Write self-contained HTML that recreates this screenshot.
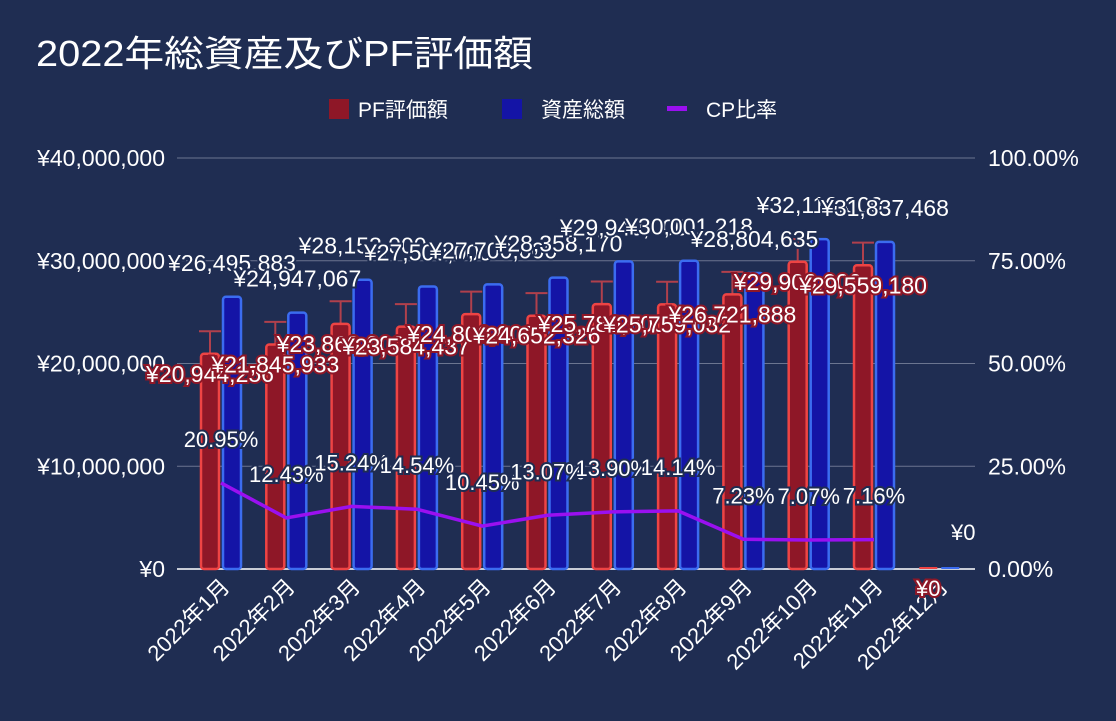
<!DOCTYPE html>
<html><head><meta charset="utf-8"><style>
body{margin:0;background:#1f2d52;}
svg text{font-family:"Liberation Sans","Noto Sans CJK JP",sans-serif;}
</style></head><body>
<svg id="s" width="1116" height="716" xmlns="http://www.w3.org/2000/svg">
<rect width="1116" height="716" fill="#1f2d52"/>
<text x="36" y="66" font-size="36" fill="#fff" textLength="497" lengthAdjust="spacingAndGlyphs">2022年総資産及びPF評価額</text>
<rect x="329" y="99" width="20" height="20" fill="#8e1727"/>
<text x="358" y="117" font-size="21" fill="#fff">PF評価額</text>
<rect x="502" y="99" width="20" height="20" fill="#1414a6"/>
<text x="541" y="117" font-size="21" fill="#fff">資産総額</text>
<rect x="667" y="106" width="20" height="5" fill="#9a10f0"/>
<text x="706" y="117" font-size="21" fill="#fff">CP比率</text>
<g id="g"></g>
</svg>
<script>
const g=document.getElementById('g');let h='';
const Y=v=>569-v/40e6*411;
[0,1,2,3,4].forEach(i=>{const y=569-i*102.75;
h+=`<line x1="177" x2="975" y1="${y}" y2="${y}" stroke="${i?'#6b7590':'#c8ccd6'}" stroke-width="${i?1:2}"/>`;
h+=`<text x="165" y="${y+8}" font-size="23" fill="#fff" text-anchor="end">¥${(i*10000000).toLocaleString('en-US')}</text>`;
h+=`<text x="988" y="${y+8}" font-size="23" fill="#fff">${(i*25).toFixed(2)}%</text>`;});
const R=[20944256,21845933,23860000,23584437,24800000,24652326,25780000,25759032,26721888,29900000,29559180,0];
const B=[26495883,24947067,28153000,27500000,27700000,28358170,29940000,30001218,28804635,32110000,31837468,0];
const C=[20.95,12.43,15.24,14.54,10.45,13.07,13.90,14.14,7.23,7.07,7.16];
const f=v=>'¥'+v.toLocaleString('en-US');
let bars='',lbl='',pts=[];
for(let i=0;i<12;i++){const c=221+65.3*i;
 if(i<11){const yr=Y(R[i]),yb=Y(B[i]),ye=Y(R[i]+2200000);
 bars+=`<line x1="${c-11}" x2="${c-11}" y1="${ye}" y2="${yr}" stroke="#b0404c" stroke-width="2"/><line x1="${c-22}" x2="${c}" y1="${ye}" y2="${ye}" stroke="#b0404c" stroke-width="2"/>`;
 bars+=`<rect x="${c-20}" y="${yr}" width="18" height="${569-yr}" rx="3" fill="#8e1727" stroke="#ee4444" stroke-width="2.5"/>`;
 bars+=`<rect x="${c+2}" y="${yb}" width="18" height="${569-yb}" rx="3" fill="#1414a6" stroke="#3b6cf0" stroke-width="2.5"/>`;
 lbl+=`<text x="${c-11}" y="${yr+28}" font-size="23" fill="#fff" stroke="#8e1727" stroke-width="4" paint-order="stroke" text-anchor="middle">${f(R[i])}</text>`;
 lbl+=`<text x="${c+11}" y="${yb-26}" font-size="23" fill="#fff" stroke="#1f2d52" stroke-width="4" paint-order="stroke" text-anchor="middle">${f(B[i])}</text>`;
 const yc=569-C[i]/100*411;pts.push(c+','+yc);
 lbl+=`<text x="${c}" y="${yc-36}" font-size="22" fill="#fff" stroke="#1f2d52" stroke-width="4" paint-order="stroke" text-anchor="middle">${C[i].toFixed(2)}%</text>`;
 }else{
 bars+=`<rect x="${c-20}" y="567" width="18" height="2" fill="#ee4444"/><rect x="${c+2}" y="567" width="18" height="2" fill="#3b6cf0"/>`;
 lbl+=`<text x="${c-11}" y="596" font-size="22" fill="#fff" stroke="#8e1727" stroke-width="4" paint-order="stroke" text-anchor="middle">¥0</text>`;
 lbl+=`<text x="${c+24}" y="540" font-size="22" fill="#fff" text-anchor="middle">¥0</text>`;}
 h+=`<text transform="translate(${c+10},588) rotate(-45)" font-size="22" fill="#fff" text-anchor="end">2022年${i+1}月</text>`;
}
h+=bars+`<polyline points="${pts.join(' ')}" fill="none" stroke="#9a10f0" stroke-width="3.5"/>`+lbl;
g.innerHTML=h;
</script>
</body></html>
